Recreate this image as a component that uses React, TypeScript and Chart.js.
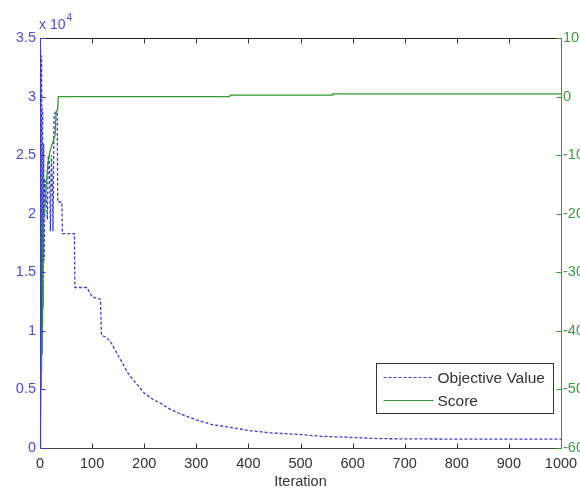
import React, { useEffect, useRef } from "react";
import { Chart, registerables } from "chart.js";

Chart.register(...registerables);

// ---- data ----
const objIterations = [0, 1, 2, 3, 4, 5, 6, 7, 8, 9, 12, 14, 16, 18, 20, 22, 24, 25, 27, 31, 33, 34, 42, 43, 66, 67, 90, 95, 100, 116, 118, 125, 135, 145, 155, 170, 185, 200, 215, 232, 250, 270, 300, 330, 360, 400, 440, 500, 540, 600, 650, 700, 800, 1000];
const objectiveValues = [3000, 34000, 5000, 33500, 8000, 29000, 12000, 26000, 16000, 23000, 21500, 19500, 25000, 24500, 18500, 25000, 22000, 18500, 28500, 28700, 28700, 21000, 21000, 18300, 18300, 13700, 13700, 13300, 12900, 12700, 9600, 9500, 9100, 8300, 7500, 6300, 5500, 4700, 4200, 3800, 3300, 2900, 2400, 2000, 1800, 1500, 1300, 1150, 1000, 900, 800, 780, 760, 750];

const scoreIterations = [0, 1, 2, 3, 4, 5, 6, 9, 12, 15, 19, 25, 29, 31, 34, 35, 364, 365, 561, 562, 1000];
const scoreValues = [-600, -560, -470, -465, -390, -300, -210, -195, -150, -115, -94, -77, -65, -26, -22, 0, 0, 2.5, 2.5, 4.5, 4.5];

const xTicks = [0, 100, 200, 300, 400, 500, 600, 700, 800, 900, 1000];
const leftTicks = [0, 5000, 10000, 15000, 20000, 25000, 30000, 35000];
const rightTicks = [-600, -500, -400, -300, -200, -100, 0, 100];

const seriesNames = ["Objective Value", "Score"];
const xTitle = "Iteration";

const BLUE = "#3c3cd0";
const BLUE_TXT = "#4d4dd8";
const GREEN = "#2f9a2f";
const GREEN_TXT = "#3f9d3f";
const FONT = "Liberation Sans, Arial, sans-serif";

const framePlugin = {
  id: "matlabFrame",
  afterDraw(chart: any) {
    const { ctx, chartArea } = chart;
    const { left, right, top, bottom } = chartArea;
    const xs = chart.scales.x;
    const yl = chart.scales.y;
    const yr = chart.scales.y1;
    ctx.save();
    ctx.lineWidth = 1;
    const L = Math.round(left) + 0.5;
    const R = Math.round(right) + 0.5;
    const T = Math.round(top) + 0.5;
    const B = Math.round(bottom) + 0.5;
    ctx.strokeStyle = "#222";
    ctx.beginPath();
    ctx.moveTo(L, T);
    ctx.lineTo(R, T);
    ctx.stroke();
    ctx.strokeStyle = "#444";
    ctx.beginPath();
    ctx.moveTo(L, B);
    ctx.lineTo(R, B);
    ctx.stroke();
    ctx.strokeStyle = "#333";
    for (const v of xTicks) {
      const px = Math.round(xs.getPixelForValue(v)) + 0.5;
      ctx.beginPath();
      ctx.moveTo(px, B);
      ctx.lineTo(px, B - 5);
      ctx.moveTo(px, T);
      ctx.lineTo(px, T + 5);
      ctx.stroke();
    }
    ctx.strokeStyle = BLUE;
    ctx.beginPath();
    ctx.moveTo(L, T);
    ctx.lineTo(L, B);
    ctx.stroke();
    for (const v of leftTicks) {
      const py = Math.round(yl.getPixelForValue(v)) + 0.5;
      ctx.beginPath();
      ctx.moveTo(L, py);
      ctx.lineTo(L + 5, py);
      ctx.stroke();
    }
    ctx.strokeStyle = GREEN;
    ctx.beginPath();
    ctx.moveTo(R, T);
    ctx.lineTo(R, B);
    ctx.stroke();
    for (const v of rightTicks) {
      const py = Math.round(yr.getPixelForValue(v)) + 0.5;
      ctx.beginPath();
      ctx.moveTo(R, py);
      ctx.lineTo(R - 5, py);
      ctx.stroke();
    }
    // exponent label
    ctx.fillStyle = BLUE_TXT;
    ctx.textBaseline = "alphabetic";
    ctx.textAlign = "left";
    ctx.font = `14px ${FONT}`;
    ctx.fillText("x 10", left - 1, top - 9);
    const w = ctx.measureText("x 10").width;
    ctx.font = `10px ${FONT}`;
    ctx.fillText("4", left - 1 + w + 1, top - 17);

    // legend
    const bx = Math.round(right) - 185 + 0.5;
    const by = Math.round(bottom) - 85 + 0.5;
    const bw = 177;
    const bh = 50;
    ctx.fillStyle = "#fff";
    ctx.fillRect(bx, by, bw, bh);
    ctx.strokeStyle = "#333";
    ctx.strokeRect(bx, by, bw, bh);
    const rows = [
      { name: seriesNames[0], color: BLUE, dash: [3, 2] },
      { name: seriesNames[1], color: GREEN, dash: [] as number[] },
    ];
    rows.forEach((r, i) => {
      const y = by + 14 + i * 23;
      ctx.strokeStyle = r.color;
      ctx.setLineDash(r.dash);
      ctx.beginPath();
      ctx.moveTo(bx + 7, y);
      ctx.lineTo(bx + 57, y);
      ctx.stroke();
      ctx.setLineDash([]);
      ctx.fillStyle = "#333";
      ctx.font = `15.5px ${FONT}`;
      ctx.textBaseline = "middle";
      ctx.fillText(r.name, bx + 61, y + 1);
    });
    ctx.restore();
  },
};

export default function App() {
  const ref = useRef<HTMLCanvasElement>(null);
  useEffect(() => {
    const canvas = ref.current!;
    const chart = new Chart(canvas, {
      type: "line",
      data: {
        datasets: [
          {
            label: seriesNames[1],
            data: scoreIterations.map((x, i) => ({ x, y: scoreValues[i] })),
            yAxisID: "y1",
            borderColor: GREEN,
            borderWidth: 1.3,
            pointRadius: 0,
            fill: false,
            tension: 0,
          },
          {
            label: seriesNames[0],
            data: objIterations.map((x, i) => ({ x, y: objectiveValues[i] })),
            yAxisID: "y",
            borderColor: BLUE,
            borderWidth: 1.3,
            borderDash: [3, 2],
            pointRadius: 0,
            fill: false,
            tension: 0,
          },
        ],
      },
      options: {
        responsive: false,
        animation: false,
        devicePixelRatio: 1,
        layout: { padding: { top: 38, left: 0, right: 0, bottom: 0 } },
        plugins: {
          legend: { display: false },
          tooltip: { enabled: false },
        },
        scales: {
          x: {
            type: "linear",
            min: 0,
            max: 1000,
            afterFit: (s: any) => {
              s.height = 44;
              s.paddingLeft = 0;
              s.paddingRight = 0;
            },
            afterBuildTicks: (s: any) => {
              s.ticks = xTicks.map((v) => ({ value: v }));
            },
            grid: { display: false, drawTicks: false },
            border: { display: false },
            ticks: {
              color: "#333",
              font: { family: FONT, size: 14.5 },
              padding: 7,
              maxRotation: 0,
              autoSkip: false,
              callback: (v: any) => String(v),
            },
            title: {
              display: true,
              text: xTitle,
              color: "#333",
              font: { family: FONT, size: 14.5 },
              padding: { top: 0, bottom: 1 },
            },
          },
          y: {
            type: "linear",
            position: "left",
            min: 0,
            max: 35000,
            afterFit: (s: any) => {
              s.width = 40;
            },
            afterBuildTicks: (s: any) => {
              s.ticks = leftTicks.map((v) => ({ value: v }));
            },
            grid: { display: false, drawTicks: false },
            border: { display: false },
            ticks: {
              color: BLUE_TXT,
              font: { family: FONT, size: 14.5 },
              padding: 4,
              autoSkip: false,
              callback: (v: any) => String(Number(v) / 10000),
            },
          },
          y1: {
            type: "linear",
            position: "right",
            min: -600,
            max: 100,
            afterFit: (s: any) => {
              s.width = 19;
            },
            afterBuildTicks: (s: any) => {
              s.ticks = rightTicks.map((v) => ({ value: v }));
            },
            grid: { display: false, drawTicks: false },
            border: { display: false },
            ticks: {
              color: GREEN_TXT,
              font: { family: FONT, size: 14.5 },
              padding: 2,
              autoSkip: false,
            },
          },
        },
      },
      plugins: [framePlugin],
    });
    return () => chart.destroy();
  }, []);
  return (
    <div style={{ position: "absolute", left: 0, top: 0, width: 580, height: 492, background: "#fff" }}>
      <canvas ref={ref} width={580} height={492} style={{ width: 580, height: 492, display: "block" }} />
    </div>
  );
}
